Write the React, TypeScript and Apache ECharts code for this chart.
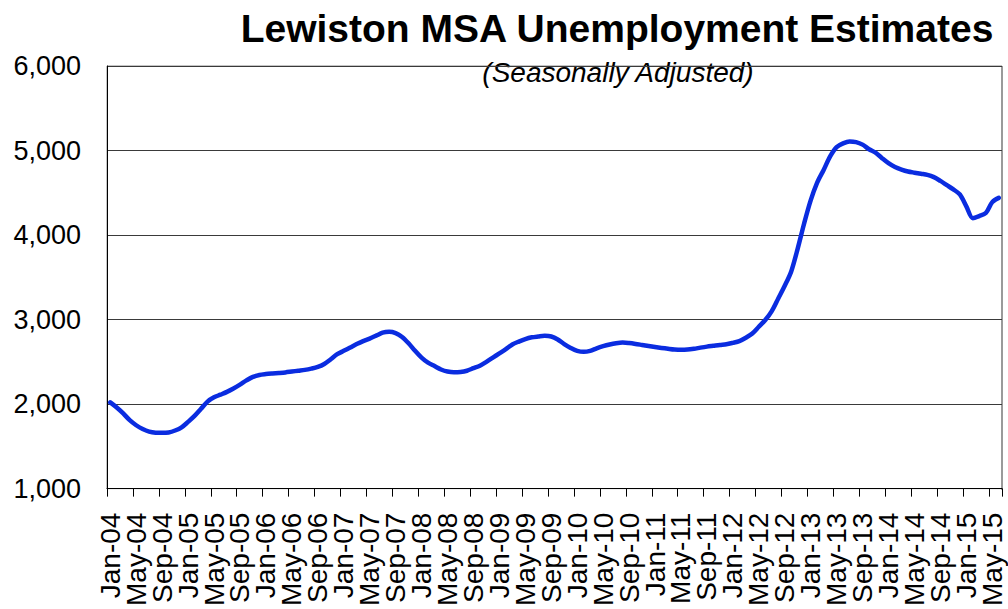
import React, { useEffect, useRef } from "react";
import * as echarts from "echarts";

const MONTHS = ["Jan", "Feb", "Mar", "Apr", "May", "Jun", "Jul", "Aug", "Sep", "Oct", "Nov", "Dec"];
const YEARS = ["04", "05", "06", "07", "08", "09", "10", "11", "12", "13", "14", "15"];

const u2004 = [2020, 1960, 1890, 1810, 1750, 1705, 1675, 1662, 1660, 1665, 1688, 1725];
const u2005 = [1790, 1860, 1945, 2030, 2080, 2112, 2145, 2185, 2230, 2280, 2322, 2345];
const u2006 = [2355, 2362, 2368, 2375, 2385, 2395, 2405, 2420, 2440, 2475, 2530, 2590];
const u2007 = [2630, 2670, 2710, 2745, 2775, 2810, 2845, 2855, 2840, 2795, 2720, 2630];
const u2008 = [2550, 2490, 2450, 2410, 2385, 2376, 2380, 2395, 2425, 2455, 2500, 2550];
const u2009 = [2600, 2650, 2705, 2740, 2770, 2790, 2800, 2808, 2800, 2765, 2710, 2665];
const u2010 = [2630, 2618, 2630, 2660, 2685, 2705, 2720, 2728, 2722, 2712, 2700, 2688];
const u2011 = [2676, 2665, 2655, 2646, 2642, 2645, 2655, 2668, 2680, 2690, 2700, 2708];
const u2012 = [2725, 2745, 2785, 2835, 2915, 2995, 3100, 3250, 3400, 3570, 3840, 4140];
const u2013 = [4410, 4620, 4770, 4930, 5040, 5085, 5108, 5100, 5070, 5015, 4975, 4910];
const u2014 = [4850, 4805, 4775, 4752, 4738, 4725, 4712, 4685, 4640, 4590, 4540, 4480];
const u2015 = [4340, 4200, 4225, 4260, 4390, 4440];

const yearly = [u2004, u2005, u2006, u2007, u2008, u2009, u2010, u2011, u2012, u2013, u2014, u2015];

const categories: string[] = [];
const values: number[] = [];
yearly.forEach((arr, yi) => {
  arr.forEach((v, mi) => {
    categories.push(MONTHS[mi] + "-" + YEARS[yi]);
    values.push(v);
  });
});

const TITLE = "Lewiston MSA Unemployment Estimates";
const SUBTITLE = "(Seasonally Adjusted)";
const FONT = '"Liberation Sans", Arial, sans-serif';

const labelStyle = {
  showMinLabel: true,
  rotate: 90,
  margin: 24,
  fontSize: 28,
  color: "#000",
  fontFamily: FONT,
};

export default function App() {
  const ref = useRef<HTMLDivElement>(null);
  useEffect(() => {
    document.body.style.margin = "0";
    const chart = echarts.init(ref.current!, null, { renderer: "svg" });
    chart.setOption({
      animation: false,
      backgroundColor: "#ffffff",
      textStyle: { fontFamily: FONT },
      grid: {
        left: 107,
        top: 66,
        right: 6,
        bottom: 119,
        show: true,
        borderColor: "#8a8a8a",
        borderWidth: 1,
        containLabel: false,
      },
      graphic: [
        {
          type: "text",
          x: 617,
          y: 28,
          style: {
            text: TITLE,
            font: "bold 39px " + FONT,
            fill: "#000",
            textAlign: "center",
            textVerticalAlign: "middle",
          },
        },
        {
          type: "text",
          x: 618,
          y: 72,
          style: {
            text: SUBTITLE,
            font: "italic 28px " + FONT,
            fill: "#000",
            textAlign: "center",
            textVerticalAlign: "middle",
          },
        },
        {
          type: "line",
          shape: { x1: 1002, y1: 66, x2: 1002, y2: 490 },
          style: { stroke: "#9a9a9a", lineWidth: 2 },
        },
      ],
      xAxis: [
        {
          type: "category",
          data: categories,
          position: "bottom",
          boundaryGap: true,
          axisLine: { show: true, lineStyle: { color: "#000", width: 1 } },
          axisTick: { show: true, interval: 3, length: 8, lineStyle: { color: "#000" } },
          axisLabel: { ...labelStyle, interval: (idx: number) => idx % 8 === 0 },
          splitLine: { show: false },
        },
        {
          type: "category",
          data: categories,
          position: "bottom",
          offset: 0,
          boundaryGap: true,
          axisLine: { show: false },
          axisTick: { show: false },
          axisLabel: { ...labelStyle, interval: (idx: number) => idx % 8 === 4 },
          splitLine: { show: false },
        },
      ],
      yAxis: {
        type: "value",
        min: 1000,
        max: 6000,
        interval: 1000,
        axisLine: { show: true, lineStyle: { color: "#000", width: 1 } },
        axisTick: { show: false },
        axisLabel: {
          fontSize: 27,
          color: "#000",
          margin: 26,
          fontFamily: FONT,
          padding: [8, 0, 0, 0],
          formatter: (v: number) => v.toLocaleString("en-US"),
        },
        splitLine: { show: true, lineStyle: { color: "#3a3a3a", width: 1 } },
      },
      series: [
        {
          type: "line",
          xAxisIndex: 0,
          data: values,
          showSymbol: false,
          smooth: 0.3,
          lineStyle: { color: "#0a2ce0", width: 4.5, cap: "round", join: "round" },
        },
      ],
    });
    return () => chart.dispose();
  }, []);
  return <div ref={ref} style={{ width: 1008, height: 609 }} />;
}
